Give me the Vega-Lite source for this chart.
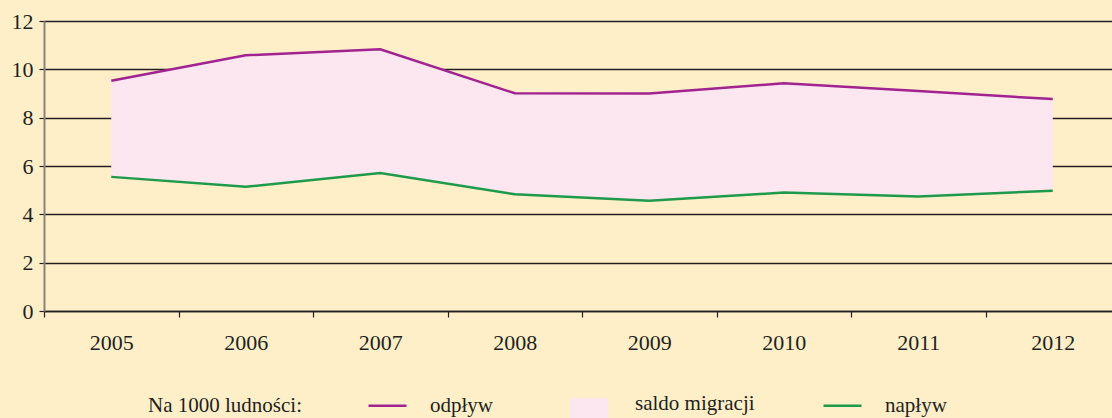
{
  "$schema": "https://vega.github.io/schema/vega-lite/v6.json",
  "autosize": "none",
  "width": 1076,
  "height": 290,
  "padding": {"left": 44, "top": 21, "right": 0, "bottom": 107},
  "background": "#FFEFC9",
  "config": {
    "view": {"stroke": null},
    "font": "Liberation Serif",
    "axis": {"labelFont": "Liberation Serif", "labelColor": "#231F20", "titleFont": "Liberation Serif"},
    "legend": {"labelFont": "Liberation Serif", "titleFont": "Liberation Serif"}
  },
  "data": {
    "values": [
      {"rok": "2005", "odplyw": 9.53, "naplyw": 5.55},
      {"rok": "2006", "odplyw": 10.58, "naplyw": 5.14},
      {"rok": "2007", "odplyw": 10.83, "naplyw": 5.71},
      {"rok": "2008", "odplyw": 9.01, "naplyw": 4.83},
      {"rok": "2009", "odplyw": 9.0, "naplyw": 4.56},
      {"rok": "2010", "odplyw": 9.42, "naplyw": 4.9},
      {"rok": "2011", "odplyw": 9.1, "naplyw": 4.74},
      {"rok": "2012", "odplyw": 8.77, "naplyw": 4.98}
    ]
  },
  "encoding": {
    "x": {
      "field": "rok", "type": "ordinal", "bandPosition": 0.5,
      "scale": {"type": "band", "paddingInner": 0, "paddingOuter": 0},
      "axis": {
        "title": null, "labelAngle": 0, "labelFontSize": 22, "labelPadding": 15,
        "tickBand": "extent", "tickSize": 6, "tickColor": "#231F20", "tickWidth": 1.2,
        "domainColor": "#231F20", "domainWidth": 1.5, "grid": false
      }
    }
  },
  "layer": [
    {
      "mark": {"type": "area", "opacity": 1},
      "encoding": {
        "y": {
          "field": "odplyw", "type": "quantitative",
          "scale": {"domain": [0, 12], "nice": false, "zero": true},
          "axis": {
            "title": null, "values": [0, 2, 4, 6, 8, 10, 12], "labelFontSize": 22,
            "labelPadding": 6, "tickSize": 5, "tickColor": "#231F20", "tickWidth": 1.2,
            "domainColor": "#8B8178", "domainWidth": 2,
            "grid": true, "gridColor": "#231F20", "gridWidth": 1.5, "gridOpacity": 1
          }
        },
        "y2": {"field": "naplyw"},
        "fill": {
          "datum": "saldo migracji",
          "scale": {"domain": ["saldo migracji"], "range": ["#FCE6F0"]},
          "legend": {
            "orient": "none", "legendX": 526, "legendY": 364,
            "direction": "horizontal", "title": null,
            "labelFontSize": 21, "labelColor": "#231F20", "labelOffset": 27,
            "symbolType": "M-1,-0.3L1,-0.3L1,1L-1,1Z", "symbolSize": 1444,
            "symbolOpacity": 1, "symbolStrokeWidth": 0, "padding": 0
          }
        }
      }
    },
    {
      "mark": {"type": "line", "strokeWidth": 2.5},
      "encoding": {
        "y": {"field": "odplyw", "type": "quantitative"},
        "stroke": {
          "datum": "odpływ",
          "scale": {"domain": ["odpływ", "napływ"], "range": ["#A1238F", "#1E9A4B"]},
          "legend": {
            "orient": "none", "legendX": 104, "legendY": 364,
            "direction": "horizontal",
            "title": "Na 1000 ludności:", "titleOrient": "left", "titleFontSize": 21,
            "titleFontWeight": "normal", "titleColor": "#231F20", "titlePadding": 65,
            "titleBaseline": "line-top", "titleLineHeight": 12,
            "labelFontSize": 21, "labelColor": "#231F20", "labelOffset": 22,
            "symbolType": "stroke", "symbolSize": 1444, "symbolStrokeWidth": 2.5,
            "columnPadding": 325, "padding": 0
          }
        }
      }
    },
    {
      "mark": {"type": "line", "strokeWidth": 2.5},
      "encoding": {
        "y": {"field": "naplyw", "type": "quantitative"},
        "stroke": {"datum": "napływ"}
      }
    }
  ]
}
